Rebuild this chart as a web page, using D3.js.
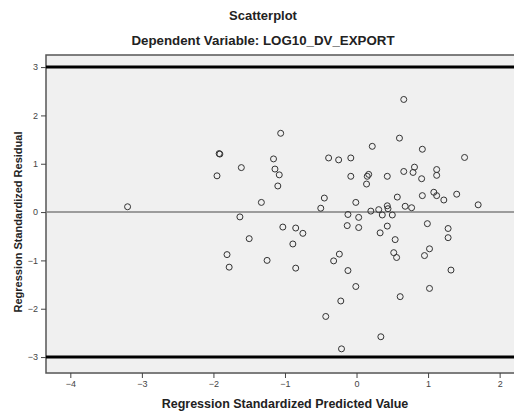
<!DOCTYPE html>
<html lang="en">
<head>
<meta charset="UTF-8">
<title>Scatterplot</title>
<script src="https://d3js.org/d3.v7.min.js"></script>
<style>
  body { margin: 0; background: #fff; }
  text { font-family: "Liberation Sans", Arial, sans-serif; }
</style>
</head>
<body>
<svg id="chart" width="514" height="414"></svg>
<script>
const predicted = [
  -3.20, -1.92, -1.91, -1.61, -1.95, -1.33, -1.63, -1.50, -1.81, -1.78,
  -1.25, -1.06, -1.16, -1.14, -1.08, -1.10, -0.39, -0.25, -0.08, -0.08,
  -0.45, -0.50, -0.01, -0.12, 0.66, 0.60, 0.22, 0.92, 1.51, 0.81,
  1.12, 0.17, 0.15, 0.43, 0.66, 0.79, 0.91, 1.12, 0.14, 0.57,
  1.08, 0.92, 1.12, 1.22, 1.40, 1.70, 0.43, 0.44, 0.68, 0.77,
  0.20, 0.31, 0.36, 0.50, 0.03, 0.03, 0.43, 0.33, 0.99, 1.28,
  1.28, 0.54, 1.02, 0.52, 0.56, 0.95, 1.32, -0.01, 1.02, 0.61,
  0.34, -1.03, -0.85, -0.75, -0.13, -0.89, -0.85, -0.24, -0.32, -0.12,
  -0.22, -0.43, -0.21
];
const residual = [
  0.11, 1.21, 1.20, 0.92, 0.75, 0.20, -0.10, -0.55, -0.88, -1.14,
  -1.00, 1.63, 1.10, 0.89, 0.77, 0.54, 1.12, 1.08, 1.12, 0.74,
  0.29, 0.08, 0.20, -0.05, 2.33, 1.53, 1.36, 1.30, 1.13, 0.93,
  0.88, 0.78, 0.74, 0.74, 0.84, 0.82, 0.69, 0.76, 0.58, 0.31,
  0.41, 0.34, 0.34, 0.25, 0.37, 0.15, 0.13, 0.07, 0.12, 0.09,
  0.02, 0.05, -0.06, -0.06, -0.11, -0.32, -0.29, -0.43, -0.24, -0.34,
  -0.53, -0.57, -0.76, -0.84, -0.94, -0.90, -1.20, -1.54, -1.58, -1.75,
  -2.58, -0.31, -0.33, -0.44, -0.28, -0.66, -1.16, -0.87, -1.01, -1.21,
  -1.84, -2.16, -2.83
];
const xTicks = [-4, -3, -2, -1, 0, 1, 2];
const yTicks = [-3, -2, -1, 0, 1, 2, 3];
const refLines = [3, -3];

const margin = {top: 55, left: 46};
const pxPerX = 71.55, pxPerY = 48.33;
const xDomain = [-4.34, 2.3], yDomain = [-3.33, 3.25];
const width = (xDomain[1] - xDomain[0]) * pxPerX;
const height = (yDomain[1] - yDomain[0]) * pxPerY;

const x = d3.scaleLinear().domain(xDomain).range([margin.left, margin.left + width]);
const y = d3.scaleLinear().domain(yDomain).range([margin.top + height, margin.top]);

const svg = d3.select("#chart");

// titles
svg.append("text").attr("x", 263).attr("y", 20).attr("text-anchor", "middle")
  .attr("font-size", 13).attr("font-weight", "bold").attr("fill", "#222").text("Scatterplot");
svg.append("text").attr("x", 263).attr("y", 45).attr("text-anchor", "middle")
  .attr("font-size", 13.3).attr("font-weight", "bold").attr("fill", "#222")
  .text("Dependent Variable: LOG10_DV_EXPORT");

// plot background
svg.append("rect")
  .attr("x", margin.left).attr("y", margin.top)
  .attr("width", width).attr("height", height)
  .attr("fill", "#f0f0f0").attr("stroke", "#555").attr("stroke-width", 1.5);

// zero line
svg.append("line")
  .attr("x1", margin.left).attr("x2", margin.left + width)
  .attr("y1", y(0)).attr("y2", y(0))
  .attr("stroke", "#808080").attr("stroke-width", 1.5);

// +/-3 reference lines
svg.selectAll(".ref").data(refLines).join("line")
  .attr("class", "ref")
  .attr("x1", margin.left).attr("x2", margin.left + width)
  .attr("y1", d => y(d)).attr("y2", d => y(d))
  .attr("stroke", "#000").attr("stroke-width", 3);

// axes
const xAxis = d3.axisBottom(x).tickValues(xTicks).tickSize(5).tickPadding(3).tickFormat(d3.format("d"));
const yAxis = d3.axisLeft(y).tickValues(yTicks).tickSize(5).tickPadding(3).tickFormat(d3.format("d"));

const gx = svg.append("g").attr("transform", `translate(0,${margin.top + height})`).call(xAxis);
const gy = svg.append("g").attr("transform", `translate(${margin.left},0)`).call(yAxis);
[gx, gy].forEach(g => {
  g.select(".domain").remove();
  g.selectAll(".tick line").attr("stroke", "#444");
  g.selectAll(".tick text").attr("font-size", 9).attr("fill", "#444")
    .attr("font-family", "'Liberation Sans', Arial, sans-serif");
});

// axis titles
svg.append("text").attr("x", 285).attr("y", 408).attr("text-anchor", "middle")
  .attr("font-size", 12.5).attr("font-weight", "bold").attr("fill", "#222")
  .text("Regression Standardized Predicted Value");
svg.append("text").attr("transform", "translate(22,222) rotate(-90)").attr("text-anchor", "middle")
  .attr("font-size", 11).attr("font-weight", "bold").attr("fill", "#222")
  .text("Regression Standardized Residual");

// points
svg.selectAll(".dot").data(predicted.map((p, i) => [p, residual[i]])).join("circle")
  .attr("class", "dot")
  .attr("cx", d => x(d[0])).attr("cy", d => y(d[1]))
  .attr("r", 3)
  .attr("fill", "none").attr("stroke", "#333").attr("stroke-width", 1);
</script>
</body>
</html>
